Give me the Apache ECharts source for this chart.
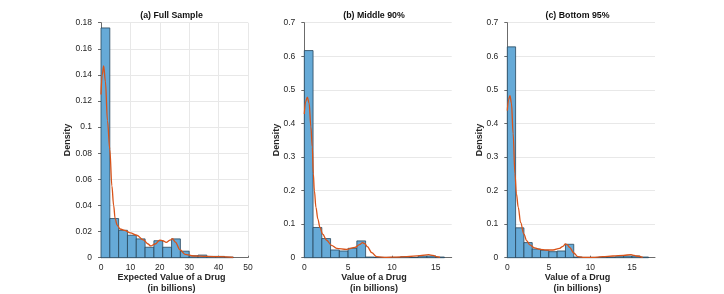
<!DOCTYPE html>
<html>
<head>
<meta charset="utf-8">
<script src="https://cdn.jsdelivr.net/npm/echarts@6/dist/echarts.min.js"></script>
<style>
html,body{margin:0;padding:0;background:#fff;}
#chart{width:724px;height:294px;}
</style>
</head>
<body>
<div id="chart"></div>
<script>
// ---------- Data ----------
const panelTitles = ['(a) Full Sample', '(b) Middle 90%', '(c) Bottom 95%'];
const xLabels = ['Expected Value of a Drug', 'Value of a Drug', 'Value of a Drug'];
const xSubLabel = '(in billions)';
const yLabel = 'Density';

// Panel (a) histogram: bin edges (start, end) and densities
const aBinStart = [0, 3, 6, 9, 12, 15, 18, 21, 24, 27, 30, 33, 36, 39, 42];
const aBinEnd   = [3, 6, 9, 12, 15, 18, 21, 24, 27, 30, 33, 36, 39, 42, 45];
const aDensity  = [0.176, 0.030, 0.021, 0.0172, 0.0144, 0.008, 0.013, 0.008, 0.0144, 0.005, 0.0015, 0.002, 0.001, 0.001, 0.0005];
// Panel (a) kernel density
const aKdeX = [0, 0.4, 0.9, 1.5, 2.2, 3.0, 3.7, 4.3, 4.8, 5.5, 6.5, 8, 10, 12.2, 14.4, 16, 16.9, 18.4, 20, 21, 22.2, 23.5, 24.3, 25.3, 26.9, 28.6, 31.5, 36, 40.6, 45];
const aKdeY = [0.125, 0.140, 0.147, 0.135, 0.105, 0.083, 0.055, 0.040, 0.030, 0.025, 0.022, 0.021, 0.019, 0.0172, 0.0136, 0.0105, 0.009, 0.0105, 0.0135, 0.013, 0.0118, 0.0135, 0.0146, 0.012, 0.006, 0.0026, 0.0013, 0.001, 0.0008, 0.0003];

// Panel (b)
const bBinStart = [0, 1, 2, 3, 4, 5, 6, 7, 8, 9, 10, 11, 12, 13, 14, 15];
const bBinEnd   = [1, 2, 3, 4, 5, 6, 7, 8, 9, 10, 11, 12, 13, 14, 15, 16];
const bDensity  = [0.617, 0.090, 0.057, 0.023, 0.020, 0.028, 0.050, 0.002, 0.001, 0.001, 0.001, 0.003, 0.001, 0.005, 0.005, 0.002];
const bKdeX = [0, 0.15, 0.35, 0.55, 0.75, 0.91, 1.03, 1.15, 1.33, 1.55, 1.79, 2.1, 2.55, 3.1, 3.7, 4.8, 5.8, 6.3, 6.65, 6.9, 7.2, 7.7, 8.25, 9.4, 10.5, 11.7, 13.2, 14.2, 14.7, 15.1, 15.5];
const bKdeY = [0.428, 0.465, 0.478, 0.460, 0.390, 0.330, 0.250, 0.200, 0.150, 0.115, 0.090, 0.070, 0.052, 0.037, 0.028, 0.025, 0.031, 0.039, 0.045, 0.042, 0.033, 0.015, 0.003, 0.001, 0.002, 0.003, 0.006, 0.009, 0.007, 0.003, 0.001];

// Panel (c)
const cBinStart = [0, 1, 2, 3, 4, 5, 6, 7, 8, 9, 10, 11, 12, 13, 14, 15, 16];
const cBinEnd   = [1, 2, 3, 4, 5, 6, 7, 8, 9, 10, 11, 12, 13, 14, 15, 16, 17];
const cDensity  = [0.628, 0.089, 0.045, 0.026, 0.022, 0.018, 0.020, 0.040, 0.002, 0.001, 0.001, 0.002, 0.002, 0.003, 0.005, 0.005, 0.002];
const cKdeX = [0, 0.15, 0.32, 0.5, 0.7, 0.92, 1.1, 1.32, 1.6, 2.0, 2.35, 2.72, 3.3, 3.9, 4.7, 5.5, 6.3, 6.7, 7.0, 7.25, 7.5, 8.0, 8.5, 9.3, 10.3, 11.5, 12.7, 14, 14.9, 15.3, 15.5, 16.3];
const cKdeY = [0.438, 0.470, 0.483, 0.460, 0.370, 0.250, 0.190, 0.150, 0.105, 0.070, 0.050, 0.038, 0.029, 0.025, 0.023, 0.023, 0.028, 0.034, 0.041, 0.038, 0.031, 0.014, 0.003, 0.001, 0.001, 0.003, 0.005, 0.007, 0.009, 0.007, 0.005, 0.001];

// Axis ticks
const aXTicks = [0, 10, 20, 30, 40, 50];
const bcXTicks = [0, 5, 10, 15];

// ---------- Build ----------
const zip3 = (s, e, d) => s.map((v, i) => [v, e[i], d[i]]);
const zip2 = (x, y) => x.map((v, i) => [v, y[i]]);

const grids = [
  {left: 101, top: 22.7, width: 147, height: 235},
  {left: 304.3, top: 22.7, width: 147.4, height: 235},
  {left: 507.3, top: 22.7, width: 147.7, height: 235}
];
const xMax = [50, 16.83, 17.78];
const yMax = [0.18, 0.7, 0.7];
const yInt = [0.02, 0.1, 0.1];
const titleCx = [171.5, 374, 577.5];
const yLabelX = [68, 277, 480];

const txt = '#262626';
const axisColor = '#6b6b6b';
const gridColor = '#e8e8e8';

const xAxes = grids.map((g, i) => ({
  type: 'value', gridIndex: i, min: 0, max: xMax[i],
  interval: i === 0 ? 10 : 5,
  axisLine: {show: true, lineStyle: {color: axisColor, width: 1}},
  axisTick: {show: true, inside: true, length: 2, lineStyle: {color: axisColor},
    customValues: i === 0 ? aXTicks : bcXTicks},
  axisLabel: {color: txt, fontSize: 8.5, fontFamily: 'Liberation Sans, Arial, sans-serif', margin: 5,
    customValues: i === 0 ? aXTicks : bcXTicks},
  splitLine: {show: i === 0, lineStyle: {color: gridColor, width: 1}}
}));
const yAxes = grids.map((g, i) => ({
  type: 'value', gridIndex: i, min: 0, max: yMax[i], interval: yInt[i],
  axisLine: {show: true, lineStyle: {color: axisColor, width: 1}},
  axisTick: {show: true, inside: false, length: 3, lineStyle: {color: axisColor}},
  axisLabel: {color: txt, fontSize: 8.5, fontFamily: 'Liberation Sans, Arial, sans-serif', margin: 9,
    formatter: v => String(+v.toFixed(3))},
  splitLine: {show: true, lineStyle: {color: gridColor, width: 1}}
}));

function barSeries(idx, data) {
  return {
    type: 'custom', xAxisIndex: idx, yAxisIndex: idx,
    encode: {x: [0, 1], y: 2},
    data: data,
    renderItem: function (params, api) {
      const p0 = api.coord([api.value(0), api.value(2)]);
      const p1 = api.coord([api.value(1), 0]);
      return {
        type: 'rect',
        shape: {x: p0[0], y: p0[1], width: p1[0] - p0[0], height: p1[1] - p0[1]},
        style: {fill: '#66aad7', stroke: '#27465c', lineWidth: 0.8}
      };
    },
    z: 2
  };
}
function kdeSeries(idx, data) {
  return {
    type: 'line', xAxisIndex: idx, yAxisIndex: idx, data: data,
    showSymbol: false, smooth: 0.35, smoothMonotone: 'x',
    lineStyle: {color: '#D95319', width: 1.3},
    z: 5, silent: true, animation: false
  };
}

const graphics = [];
for (let i = 0; i < 3; i++) {
  graphics.push({type: 'text', x: titleCx[i], y: 16, style: {text: panelTitles[i], fill: '#111',
    font: 'bold 8.8px "Liberation Sans", Arial, sans-serif', textAlign: 'center', textVerticalAlign: 'middle'}});
  graphics.push({type: 'text', x: titleCx[i], y: 277.5, style: {text: xLabels[i], fill: txt,
    font: 'bold 9px "Liberation Sans", Arial, sans-serif', textAlign: 'center', textVerticalAlign: 'middle'}});
  graphics.push({type: 'text', x: titleCx[i], y: 288.5, style: {text: xSubLabel, fill: txt,
    font: 'bold 9px "Liberation Sans", Arial, sans-serif', textAlign: 'center', textVerticalAlign: 'middle'}});
  graphics.push({type: 'text', x: yLabelX[i], y: 140, rotation: Math.PI / 2, style: {text: yLabel, fill: txt,
    font: 'bold 9px "Liberation Sans", Arial, sans-serif', textAlign: 'center', textVerticalAlign: 'middle'}});
}

const chart = echarts.init(document.getElementById('chart'), null, {renderer: 'canvas'});
chart.setOption({
  animation: false,
  backgroundColor: '#fff',
  grid: grids,
  xAxis: xAxes,
  yAxis: yAxes,
  series: [
    barSeries(0, zip3(aBinStart, aBinEnd, aDensity)),
    kdeSeries(0, zip2(aKdeX, aKdeY)),
    barSeries(1, zip3(bBinStart, bBinEnd, bDensity)),
    kdeSeries(1, zip2(bKdeX, bKdeY)),
    barSeries(2, zip3(cBinStart, cBinEnd, cDensity)),
    kdeSeries(2, zip2(cKdeX, cKdeY))
  ],
  graphic: graphics
});
</script>
</body>
</html>
